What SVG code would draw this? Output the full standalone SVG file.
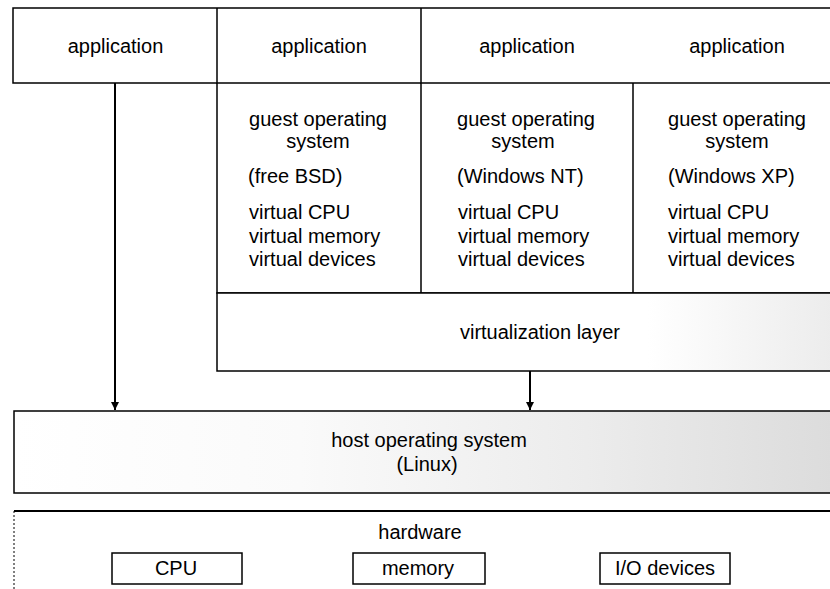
<svg xmlns="http://www.w3.org/2000/svg" width="830" height="589" viewBox="0 0 830 589">
<style>
text{font-family:"Liberation Sans",Arial,Helvetica,sans-serif;font-size:20px;fill:#000}
.c{text-anchor:middle}
.b{fill:none;stroke:#000;stroke-width:1.5}
.w{fill:#fff;stroke:#000;stroke-width:1.5}
.con{stroke:#000;stroke-width:2;fill:none}
</style>
<defs>
<marker id="ah" viewBox="0 0 8 10" refX="8" refY="5" markerWidth="8" markerHeight="10" markerUnits="userSpaceOnUse" orient="auto">
<path d="M0,1 L8,5 L0,9 Z" fill="#000"/>
</marker>
<linearGradient id="gHost" x1="0" y1="0" x2="1" y2="0">
<stop offset="0" stop-color="#fff"/>
<stop offset="0.35" stop-color="#fafafa"/>
<stop offset="0.7" stop-color="#ececec"/>
<stop offset="1" stop-color="#dcdcdc"/>
</linearGradient>
<linearGradient id="gVirt" x1="0" y1="0" x2="1" y2="0">
<stop offset="0" stop-color="#fff"/>
<stop offset="0.7" stop-color="#fff"/>
<stop offset="1" stop-color="#ececec"/>
</linearGradient>
</defs>
<rect width="830" height="589" fill="#fff"/>

<g id="app1">
<path class="b" d="M832,8 H13 V83 H217"/>
<text class="c" x="115.5" y="53">application</text>
</g>
<g id="app2">
<path class="b" d="M217,8 V83 H421"/>
<text class="c" x="319" y="53">application</text>
</g>
<g id="app3">
<path class="b" d="M421,8 V83 H832"/>
<text class="c" x="527" y="53">application</text>
</g>
<g id="app4">
<text class="c" x="737" y="53">application</text>
</g>

<g id="guest1">
<path class="b" d="M217,83 V293 H421 V83"/>
<text class="c" x="318" y="126">guest operating</text>
<text class="c" x="318" y="148">system</text>
<text x="248" y="183">(free BSD)</text>
<text x="249" y="219">virtual CPU</text>
<text x="249" y="243">virtual memory</text>
<text x="249" y="266">virtual devices</text>
</g>
<g id="guest2">
<path class="b" d="M421,293 H633 V83"/>
<text class="c" x="526" y="126">guest operating</text>
<text class="c" x="523" y="148">system</text>
<text x="457" y="183">(Windows NT)</text>
<text x="458" y="219">virtual CPU</text>
<text x="458" y="243">virtual memory</text>
<text x="458" y="266">virtual devices</text>
</g>
<g id="guest3">
<path class="b" d="M633,293 H832"/>
<text class="c" x="737" y="126">guest operating</text>
<text class="c" x="737" y="148">system</text>
<text x="668" y="183">(Windows XP)</text>
<text x="668" y="219">virtual CPU</text>
<text x="668" y="243">virtual memory</text>
<text x="668" y="266">virtual devices</text>
</g>

<g id="virtualization">
<rect x="217" y="293" width="615" height="78" fill="url(#gVirt)" stroke="#000" stroke-width="1.5"/>
<text class="c" x="540" y="339">virtualization layer</text>
</g>

<g id="host">
<rect x="14" y="411" width="818" height="82" fill="url(#gHost)" stroke="#000" stroke-width="1.5"/>
<text class="c" x="429" y="447">host operating system</text>
<text class="c" x="427" y="471">(Linux)</text>
</g>

<g id="hardware">
<line x1="14" y1="511" x2="832" y2="511" stroke="#000" stroke-width="2.2"/>
<line x1="14" y1="511" x2="14" y2="589" stroke="#000" stroke-width="1" stroke-dasharray="2 2"/>
<text class="c" x="420" y="539">hardware</text>
</g>
<g id="cpu">
<rect class="w" x="112" y="553" width="130" height="31"/>
<text class="c" x="176" y="575">CPU</text>
</g>
<g id="memory">
<rect class="w" x="353" y="553" width="132" height="31"/>
<text class="c" x="418" y="575">memory</text>
</g>
<g id="io">
<rect class="w" x="600" y="553" width="130" height="31"/>
<text class="c" x="665" y="575">I/O devices</text>
</g>

<g id="connectors">
<line class="con" x1="115" y1="83" x2="115" y2="410" marker-end="url(#ah)"/>
<line class="con" x1="530" y1="371" x2="530" y2="410" marker-end="url(#ah)"/>
</g>
</svg>
